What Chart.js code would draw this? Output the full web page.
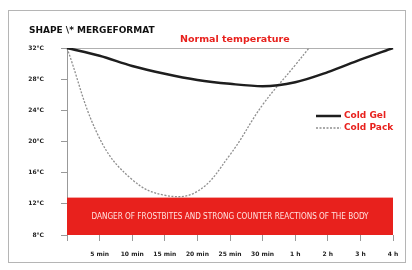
<!DOCTYPE html>
<html>
<head>
<meta charset="utf-8">
<script src="https://cdn.jsdelivr.net/npm/chart.js@4/dist/chart.umd.min.js"></script>
<style>
  html, body { margin: 0; padding: 0; background: #fff; }
  #wrap { width: 412px; height: 270px; position: relative; }
</style>
</head>
<body>
<div id="wrap"><canvas id="chart"></canvas></div>
<script>
// values (°C)
const categories = ['', '5 min', '10 min', '15 min', '20 min', '25 min', '30 min', '1 h', '2 h', '3 h', '4 h'];
const coldGel = [32, 31.0, 29.7, 28.7, 27.9, 27.4, 27.1, 27.6, 28.9, 30.5, 32];
const coldPack = [32, 20.4, 15.1, 13.1, 13.6, 18.3, 24.7, 29.8, 35, null, null];
const yTicks = [8, 12, 16, 20, 24, 28, 32];
const normalTemp = 32;
const dangerTemp = 12.8;

const titleText = 'SHAPE \\* MERGEFORMAT';
const normalText = 'Normal temperature';
const dangerText = 'DANGER OF FROSTBITES AND STRONG COUNTER REACTIONS OF THE BODY';

const RED = '#e8211d';

const decor = {
    id: 'decor',
    beforeDraw(chart) {
        const c = chart.ctx;
        c.save();
        c.fillStyle = '#fff';
        c.fillRect(0, 0, chart.width, chart.height);
        c.strokeStyle = '#b5b5b5';
        c.lineWidth = 1;
        c.strokeRect(8.5, 10.5, 397, 252);
        c.restore();
    },
    beforeDatasetsDraw(chart) {
        const c = chart.ctx, a = chart.chartArea, y = chart.scales.y;
        const top = y.getPixelForValue(dangerTemp);
        const bot = y.getPixelForValue(y.min);
        c.save();
        // danger band
        c.fillStyle = RED;
        c.fillRect(a.left, top, a.right - a.left, bot - top);
        c.fillStyle = '#ffe3e0';
        c.font = '9px "Liberation Sans Narrow", "DejaVu Sans Condensed", sans-serif';
        c.textBaseline = 'middle';
        const w = c.measureText(dangerText).width;
        const target = (a.right - a.left) * 0.85;
        const cx = (a.left + a.right) / 2, cy = (top + bot) / 2;
        c.translate(cx, cy);
        c.scale(target / w, 1);
        c.textAlign = 'center';
        c.fillText(dangerText, 0, 0);
        c.restore();

        // normal temperature line
        const ny = Math.round(y.getPixelForValue(normalTemp)) + 0.5;
        c.save();
        c.strokeStyle = '#b0b0b0';
        c.lineWidth = 1;
        c.beginPath();
        c.moveTo(a.left, ny);
        c.lineTo(a.right, ny);
        c.stroke();
        c.restore();
    },
    afterDraw(chart) {
        const c = chart.ctx, y = chart.scales.y;
        c.save();
        c.textBaseline = 'middle';
        // title
        c.fillStyle = '#111';
        c.font = 'bold 9px "DejaVu Sans", sans-serif';
        c.textAlign = 'left';
        c.fillText(titleText, 29, 31);
        // normal temperature label
        c.fillStyle = RED;
        c.font = 'bold 9.5px "DejaVu Sans", sans-serif';
        c.fillText(normalText, 180, y.getPixelForValue(normalTemp) - 8);
        // legend
        const items = [
            { ds: chart.data.datasets[0], yy: 116 },
            { ds: chart.data.datasets[1], yy: 128 }
        ];
        items.forEach(it => {
            c.strokeStyle = it.ds.borderColor;
            c.lineWidth = it.ds.borderWidth;
            c.setLineDash(it.ds.borderDash || []);
            c.beginPath();
            c.moveTo(316, it.yy);
            c.lineTo(341, it.yy);
            c.stroke();
            c.setLineDash([]);
            c.fillStyle = RED;
            c.font = 'bold 9px "DejaVu Sans", sans-serif';
            c.fillText(it.ds.label, 344, it.yy);
        });
        c.restore();
    }
};

new Chart(document.getElementById('chart'), {
    type: 'line',
    data: {
        labels: categories,
        datasets: [
            {
                label: 'Cold Gel', data: coldGel,
                borderColor: '#1e1e1e', borderWidth: 2.5,
                pointRadius: 0, cubicInterpolationMode: 'monotone'
            },
            {
                label: 'Cold Pack', data: coldPack,
                borderColor: '#8f8f8f', borderWidth: 1.3, borderDash: [2, 1.5],
                pointRadius: 0, tension: 0.4
            }
        ]
    },
    options: {
        responsive: true,
        maintainAspectRatio: false,
        animation: false,
        layout: { padding: { top: 48, right: 19, left: 0, bottom: 0 } },
        scales: {
            x: {
                type: 'category',
                offset: false,
                afterFit(s) { s.height = 35; },
                grid: { drawOnChartArea: false, drawTicks: true, tickLength: 6, color: '#999' },
                border: { display: false },
                ticks: {
                    padding: 10, maxRotation: 0, autoSkip: false,
                    color: '#222', font: { family: 'DejaVu Sans', weight: 'bold', size: 6 }
                }
            },
            y: {
                min: 8, max: 32,
                afterFit(s) { s.width = 67; },
                afterBuildTicks(s) { s.ticks = yTicks.map(v => ({ value: v })); },
                grid: { drawOnChartArea: false, drawTicks: true, tickLength: 6, color: '#999' },
                border: { display: true, color: '#999' },
                ticks: {
                    padding: 17,
                    color: '#222', font: { family: 'DejaVu Sans', weight: 'bold', size: 6 },
                    callback: v => v + '°C'
                }
            }
        },
        plugins: {
            legend: { display: false },
            tooltip: { enabled: false }
        }
    },
    plugins: [decor]
});
</script>
</body>
</html>
